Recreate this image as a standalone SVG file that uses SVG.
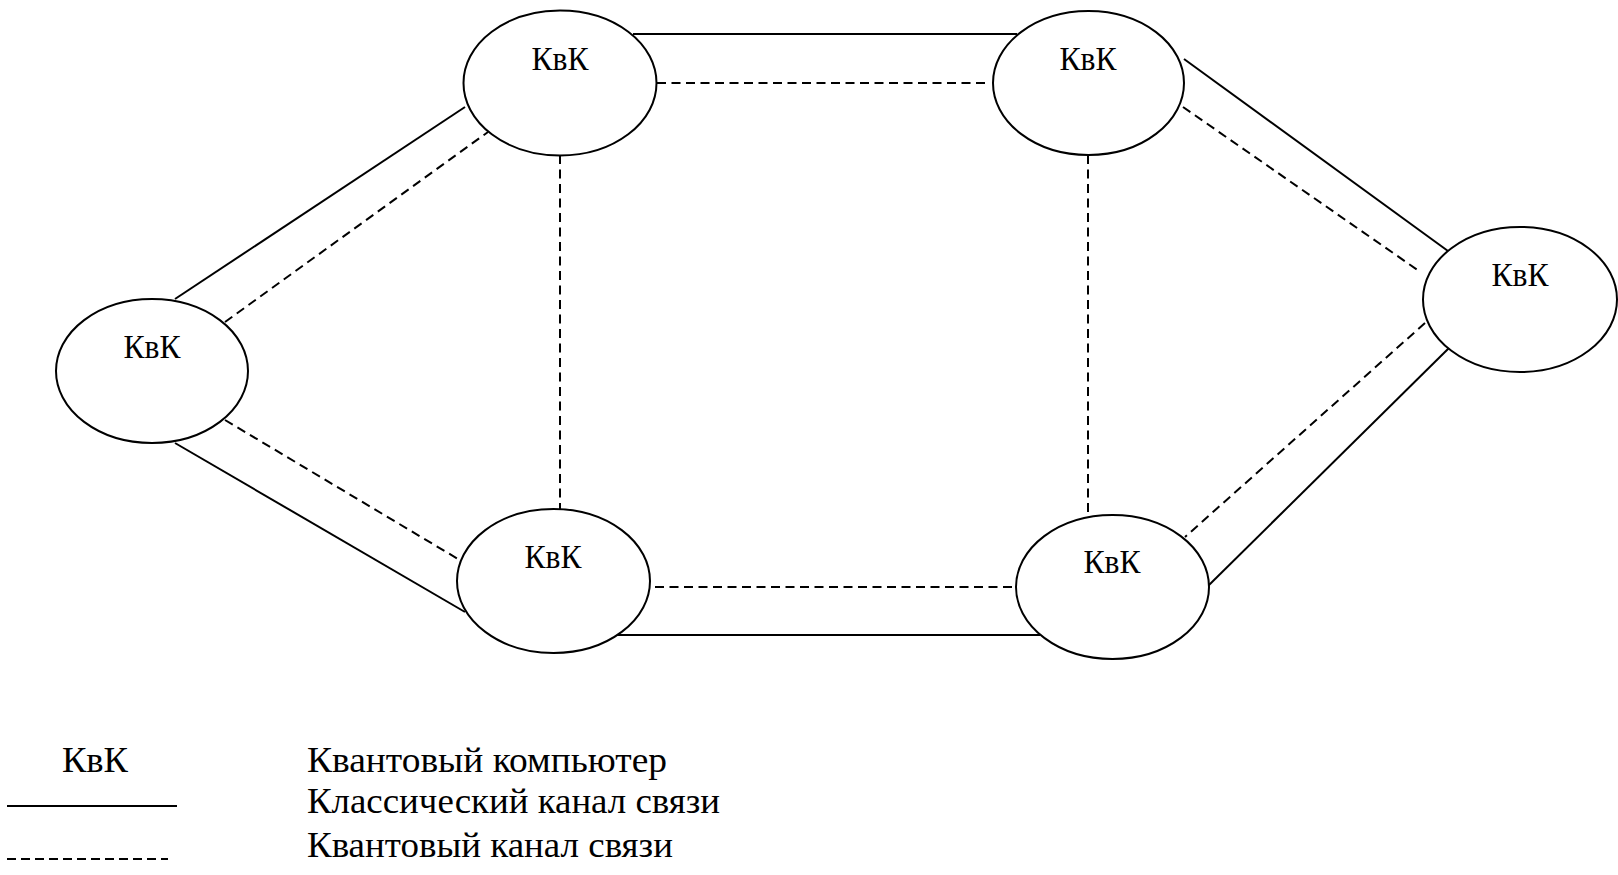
<svg xmlns="http://www.w3.org/2000/svg" width="1618" height="875" viewBox="0 0 1618 875">
<style>
.n{fill:#fff;stroke:#000;stroke-width:2}
.t{font-family:"Liberation Serif","Times New Roman",serif;font-size:33px;fill:#000;text-anchor:middle}
.lt{font-family:"Liberation Serif","Times New Roman",serif;font-size:36px;fill:#000}
.c{stroke:#000;stroke-width:2;fill:none}
.q{stroke:#000;stroke-width:2;fill:none;stroke-dasharray:9 5.5}
</style>
<rect width="1618" height="875" fill="#fff"/>
<g id="connectors">
<line class="c" x1="633" y1="34" x2="1017" y2="34"/>
<line class="q" x1="657" y1="83" x2="985" y2="83"/>
<line class="q" x1="655" y1="587" x2="1013" y2="587"/>
<line class="c" x1="608" y1="635" x2="1040" y2="635"/>
<line class="c" x1="175" y1="299" x2="465" y2="107"/>
<line class="q" x1="225" y1="322" x2="488" y2="132"/>
<line class="q" x1="225" y1="420" x2="458" y2="559"/>
<line class="c" x1="175" y1="443" x2="465" y2="612"/>
<line class="q" x1="560" y1="155" x2="560" y2="510"/>
<line class="q" x1="1088" y1="155" x2="1088" y2="513"/>
<line class="c" x1="1184" y1="59" x2="1448" y2="251"/>
<line class="q" x1="1183" y1="107" x2="1419" y2="271"/>
<line class="q" x1="1425" y1="323" x2="1185" y2="537"/>
<line class="c" x1="1449" y1="348" x2="1208" y2="586"/>
</g>
<g id="node-tl"><ellipse class="n" cx="560" cy="83" rx="96.5" ry="72.5"/><text class="t" x="560" y="70" textLength="57" lengthAdjust="spacingAndGlyphs">КвК</text></g>
<g id="node-tr"><ellipse class="n" cx="1088.5" cy="83" rx="95.5" ry="72"/><text class="t" x="1088" y="70" textLength="57" lengthAdjust="spacingAndGlyphs">КвК</text></g>
<g id="node-r"><ellipse class="n" cx="1520" cy="299.5" rx="97" ry="72.5"/><text class="t" x="1520" y="286" textLength="57" lengthAdjust="spacingAndGlyphs">КвК</text></g>
<g id="node-l"><ellipse class="n" cx="152" cy="371" rx="96" ry="72"/><text class="t" x="152" y="358" textLength="57" lengthAdjust="spacingAndGlyphs">КвК</text></g>
<g id="node-bl"><ellipse class="n" cx="553.5" cy="581" rx="96.5" ry="72"/><text class="t" x="553" y="568" textLength="57" lengthAdjust="spacingAndGlyphs">КвК</text></g>
<g id="node-br"><ellipse class="n" cx="1112.5" cy="587" rx="96.5" ry="72"/><text class="t" x="1112" y="573" textLength="57" lengthAdjust="spacingAndGlyphs">КвК</text></g>
<g id="legend">
<text class="lt" x="62" y="772" textLength="66" lengthAdjust="spacingAndGlyphs">КвК</text>
<line class="c" x1="7" y1="806" x2="177" y2="806"/>
<line class="c" x1="7" y1="859" x2="168" y2="859" stroke-dasharray="9 5"/>
<text class="lt" x="307" y="772" textLength="360" lengthAdjust="spacingAndGlyphs">Квантовый компьютер</text>
<text class="lt" x="307" y="813" textLength="413" lengthAdjust="spacingAndGlyphs">Классический канал связи</text>
<text class="lt" x="307" y="857" textLength="366" lengthAdjust="spacingAndGlyphs">Квантовый канал связи</text>
</g>
</svg>
